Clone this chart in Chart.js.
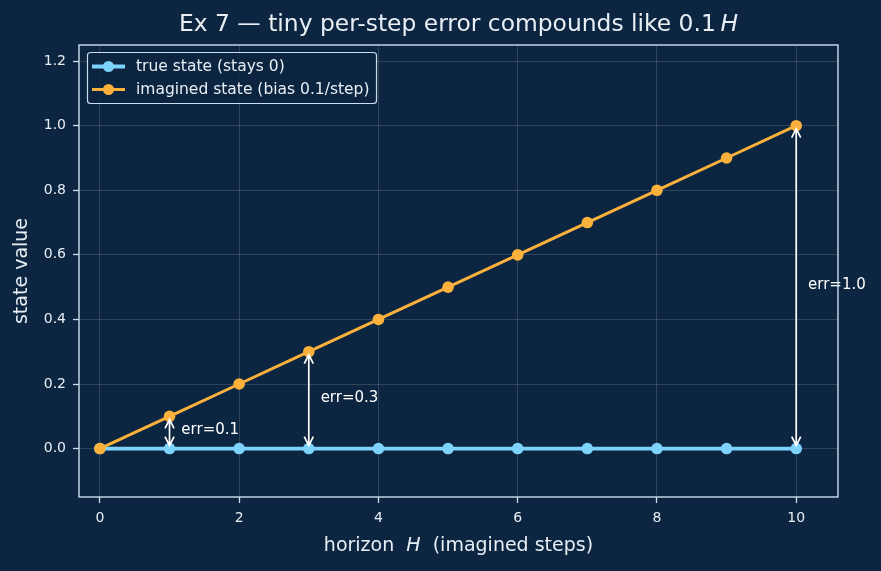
<!DOCTYPE html>
<html>
<head>
<meta charset="utf-8">
<script src="https://cdn.jsdelivr.net/npm/chart.js@4.4.1/dist/chart.umd.min.js"></script>
<style>
  html, body { margin: 0; padding: 0; background: #0c2641; }
  #wrap { width: 881px; height: 571px; }
</style>
</head>
<body>
<div id="wrap"><canvas id="chart" width="881" height="571"></canvas></div>
<script>
const horizon = [0, 1, 2, 3, 4, 5, 6, 7, 8, 9, 10];
const trueState = [0, 0, 0, 0, 0, 0, 0, 0, 0, 0, 0];
const imaginedState = [0, 0.1, 0.2, 0.3, 0.4, 0.5, 0.6, 0.7, 0.8, 0.9, 1.0];
const xTicks = [0, 2, 4, 6, 8, 10];
const yTicks = [0, 0.2, 0.4, 0.6, 0.8, 1.0, 1.2];
const errSteps = [1, 3, 10];
const errValues = [0.1, 0.3, 1.0];
const errLabels = ["err=0.1", "err=0.3", "err=1.0"];

const BG = "#0c2641";
const FG = "#e8eef4";
const SPINE = "#c9dff0";
const BLUE = "#7dd3fc";
const ORANGE = "#fbb13c";
const FONT = "'DejaVu Sans', sans-serif";

const toPoints = (ys) => horizon.map((h, i) => ({ x: h, y: ys[i] }));

// draws text made of [text, italic] parts, centred at x
function mixedText(ctx, parts, size, cx, cy) {
	const fonts = parts.map(([, it]) => `${it ? "italic " : ""}${size}px ${FONT}`);
	let total = 0;
	const widths = parts.map(([t], i) => {
		ctx.font = fonts[i];
		const w = ctx.measureText(t).width;
		total += w;
		return w;
	});
	let x = cx - total / 2;
	ctx.textAlign = "left";
	ctx.textBaseline = "middle";
	parts.forEach(([t], i) => {
		ctx.font = fonts[i];
		ctx.fillText(t, x, cy);
		x += widths[i];
	});
}

const decor = {
	id: "decor",
	beforeDraw(chart) {
		const { ctx } = chart;
		ctx.save();
		ctx.fillStyle = BG;
		ctx.fillRect(0, 0, chart.width, chart.height);
		ctx.restore();
	},
	afterDatasetsDraw(chart) {
		const { ctx, scales } = chart;
		const x = scales.x, y = scales.y;
		ctx.save();
		ctx.strokeStyle = "#ffffff";
		ctx.fillStyle = "#ffffff";
		ctx.lineWidth = 1.7;
		errSteps.forEach((step, i) => {
			const px = x.getPixelForValue(step);
			const yb = y.getPixelForValue(0) - 3;
			const yt = y.getPixelForValue(errValues[i]) + 3;
			ctx.beginPath();
			ctx.moveTo(px, yb);
			ctx.lineTo(px, yt);
			ctx.moveTo(px - 4.5, yt + 9);
			ctx.lineTo(px, yt);
			ctx.lineTo(px + 4.5, yt + 9);
			ctx.moveTo(px - 4.5, yb - 9);
			ctx.lineTo(px, yb);
			ctx.lineTo(px + 4.5, yb - 9);
			ctx.stroke();
			ctx.font = `15px ${FONT}`;
			ctx.textAlign = "left";
			ctx.textBaseline = "middle";
			ctx.fillText(errLabels[i], x.getPixelForValue(step + 0.17), y.getPixelForValue(errValues[i] / 2) - 2.5);
		});
		ctx.restore();
	},
	afterDraw(chart) {
		const { ctx, chartArea: a } = chart;
		ctx.save();
		// spines
		ctx.strokeStyle = SPINE;
		ctx.lineWidth = 1.4;
		ctx.strokeRect(a.left, a.top, a.right - a.left, a.bottom - a.top);

		// title and axis titles
		ctx.fillStyle = FG;
		mixedText(ctx, [["Ex 7 \u2014 tiny per-step error compounds like 0.1\u2009", false], ["H", true]], 23.4, (a.left + a.right) / 2, 25);
		mixedText(ctx, [["horizon  ", false], ["H", true], ["  (imagined steps)", false]], 19, (a.left + a.right) / 2, 546);
		ctx.save();
		ctx.translate(22, (a.top + a.bottom) / 2);
		ctx.rotate(-Math.PI / 2);
		mixedText(ctx, [["state value", false]], 19, 0, 0);
		ctx.restore();

		// legend
		const lx = 87, ly = 52, lw = 289, lh = 51;
		ctx.fillStyle = "rgba(12,38,65,0.85)";
		ctx.strokeStyle = SPINE;
		ctx.lineWidth = 1.2;
		ctx.beginPath();
		ctx.roundRect(lx + 0.5, ly + 0.5, lw, lh, 3);
		ctx.fill();
		ctx.stroke();
		chart.data.datasets
			.slice()
			.sort((p, q) => p.legendIndex - q.legendIndex)
			.forEach((ds, i) => {
				const ry = ly + 14.5 + i * 23;
				ctx.strokeStyle = ds.borderColor;
				ctx.lineWidth = ds.borderWidth;
				ctx.beginPath();
				ctx.moveTo(92, ry);
				ctx.lineTo(125, ry);
				ctx.stroke();
				ctx.fillStyle = ds.borderColor;
				ctx.beginPath();
				ctx.arc(108.5, ry, 5.5, 0, Math.PI * 2);
				ctx.fill();
				ctx.fillStyle = FG;
				ctx.font = `15.5px ${FONT}`;
				ctx.textAlign = "left";
				ctx.textBaseline = "middle";
				ctx.fillText(ds.label, 136, ry);
			});
		ctx.restore();
	},
};

new Chart(document.getElementById("chart"), {
	type: "line",
	data: {
		datasets: [
			{
				label: "true state (stays 0)",
				data: toPoints(trueState),
				borderColor: BLUE,
				backgroundColor: BLUE,
				borderWidth: 3.8,
				pointRadius: 5.8,
				pointBorderWidth: 0,
				pointBackgroundColor: BLUE,
				order: 1,
				legendIndex: 0,
			},
			{
				label: "imagined state (bias 0.1/step)",
				data: toPoints(imaginedState),
				borderColor: ORANGE,
				backgroundColor: ORANGE,
				borderWidth: 3,
				pointRadius: 5.8,
				pointBorderWidth: 0,
				pointBackgroundColor: ORANGE,
				order: 0,
				legendIndex: 1,
			},
		],
	},
	options: {
		responsive: false,
		devicePixelRatio: 1,
		animation: false,
		layout: { padding: { left: 0, right: 43, top: 45, bottom: 0 } },
		plugins: {
			legend: { display: false },
			tooltip: { enabled: false },
		},
		scales: {
			x: {
				type: "linear",
				min: -0.3,
				max: 10.6,
				afterFit: (s) => { s.height = 74; },
				afterBuildTicks: (s) => { s.ticks = xTicks.map((v) => ({ value: v })); },
				border: { display: false },
				grid: {
					color: "rgba(255,255,255,0.16)",
					lineWidth: 0.9,
					tickColor: SPINE,
					tickLength: 6,
					tickWidth: 1.3,
				},
				ticks: {
					color: FG,
					padding: 7,
					maxRotation: 0,
					font: { family: FONT, size: 14 },
					callback: (v) => String(v),
				},
			},
			y: {
				type: "linear",
				min: -0.15,
				max: 1.25,
				afterFit: (s) => { s.width = 79; },
				afterBuildTicks: (s) => { s.ticks = yTicks.map((v) => ({ value: v })); },
				border: { display: false },
				grid: {
					color: "rgba(255,255,255,0.16)",
					lineWidth: 0.9,
					tickColor: SPINE,
					tickLength: 6,
					tickWidth: 1.3,
				},
				ticks: {
					color: FG,
					padding: 7,
					font: { family: FONT, size: 14 },
					callback: (v) => v.toFixed(1),
				},
			},
		},
	},
	plugins: [decor],
});
</script>
</body>
</html>
